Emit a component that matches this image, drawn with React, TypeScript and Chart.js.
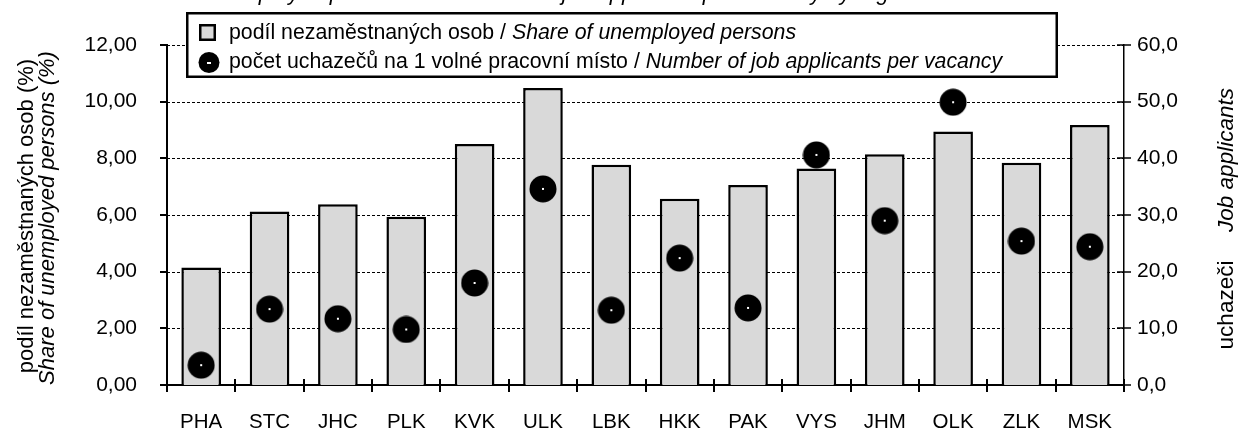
import React, { useEffect, useRef } from "react";
import { Chart, registerables } from "chart.js";

Chart.register(...registerables);

const regions = ["PHA", "STC", "JHC", "PLK", "KVK", "ULK", "LBK", "HKK", "PAK", "VYS", "JHM", "OLK", "ZLK", "MSK"];
const unemployedShare = [4.15, 6.12, 6.38, 5.94, 8.51, 10.48, 7.77, 6.57, 7.06, 7.64, 8.14, 8.95, 7.84, 9.18];
const applicantsPerVacancy = [3.5, 13.4, 11.7, 9.8, 18.0, 34.6, 13.2, 22.4, 13.6, 40.6, 29.0, 49.9, 25.4, 24.4];
const leftTicks = [0, 2, 4, 6, 8, 10, 12];
const rightTicks = [0, 10, 20, 30, 40, 50, 60];

const titleText = "Share of unemployed persons and number of job applicants per vacancy by region";
const legendShareCz = "podíl nezaměstnaných osob / ";
const legendShareEn = "Share of unemployed persons";
const legendApplCz = "počet uchazečů na 1 volné pracovní místo / ";
const legendApplEn = "Number of job applicants per vacancy";
const leftTitleCz = "podíl nezaměstnaných osob (%)";
const leftTitleEn = "Share of unemployed persons (%)";
const rightTitleCz = "uchazeči";
const rightTitleEn = "Job applicants";

const FONT = "'Liberation Sans', Arial, sans-serif";

function makeDot(): HTMLCanvasElement {
  const c = document.createElement("canvas");
  c.width = 28;
  c.height = 28;
  const g = c.getContext("2d")!;
  g.fillStyle = "#000";
  g.beginPath();
  g.arc(14, 14, 13.5, 0, Math.PI * 2);
  g.fill();
  g.fillStyle = "#fff";
  g.fillRect(13, 13, 2, 2);
  return c;
}

const customPlugin = {
  id: "customDraw",
  beforeDatasetsDraw(chart: any) {
    const { ctx, chartArea } = chart;
    const y = chart.scales.y;
    ctx.save();
    ctx.strokeStyle = "#000";
    ctx.lineWidth = 1;
    ctx.setLineDash([3, 2]);
    leftTicks.forEach((v) => {
      if (v === leftTicks[0]) return;
      const py = Math.round(y.getPixelForValue(v)) + 0.5;
      ctx.beginPath();
      ctx.moveTo(chartArea.left, py);
      ctx.lineTo(chartArea.right, py);
      ctx.stroke();
    });
    ctx.restore();
  },
  afterDraw(chart: any) {
    const { ctx, chartArea } = chart;
    const { left, right, bottom } = chartArea;
    const y = chart.scales.y;
    const y2 = chart.scales.y2;
    ctx.save();
    ctx.strokeStyle = "#000";
    ctx.setLineDash([]);
    // left ticks
    ctx.lineWidth = 2;
    leftTicks.forEach((v) => {
      const py = Math.round(y.getPixelForValue(v));
      ctx.beginPath();
      ctx.moveTo(left - 7, py);
      ctx.lineTo(left, py);
      ctx.stroke();
    });
    // x ticks at category boundaries
    const n = regions.length;
    for (let i = 0; i <= n; i++) {
      const px = Math.round(left + (i * (right - left)) / n);
      ctx.beginPath();
      ctx.moveTo(px, bottom - 6);
      ctx.lineTo(px, bottom + 7);
      ctx.stroke();
    }
    // right ticks
    ctx.lineWidth = 1.5;
    rightTicks.forEach((v) => {
      const py = Math.round(y2.getPixelForValue(v));
      ctx.beginPath();
      ctx.moveTo(right - 7, py);
      ctx.lineTo(right + 7, py);
      ctx.stroke();
    });

    // title (cut off at top)
    ctx.fillStyle = "#000";
    ctx.font = `italic 22px ${FONT}`;
    ctx.textAlign = "right";
    ctx.textBaseline = "alphabetic";
    ctx.fillText(titleText, 918, 0);

    // legend box
    ctx.fillStyle = "#fff";
    ctx.fillRect(186, 12, 872, 66);
    ctx.lineWidth = 2.5;
    ctx.strokeStyle = "#000";
    ctx.strokeRect(187.25, 13.25, 869.5, 63.5);
    // square marker
    ctx.fillStyle = "#d9d9d9";
    ctx.fillRect(199, 24, 17, 17);
    ctx.lineWidth = 2.5;
    ctx.strokeRect(200.25, 25.25, 14.5, 14.5);
    // circle marker
    ctx.fillStyle = "#000";
    ctx.beginPath();
    ctx.arc(209, 62.5, 10.5, 0, Math.PI * 2);
    ctx.fill();
    ctx.fillStyle = "#fff";
    ctx.fillRect(207, 62, 4, 2);
    // legend text
    ctx.fillStyle = "#000";
    ctx.textAlign = "left";
    ctx.textBaseline = "alphabetic";
    ctx.font = `21.3px ${FONT}`;
    ctx.fillText(legendShareCz, 229, 38.5);
    let w = ctx.measureText(legendShareCz).width;
    ctx.font = `italic 21.3px ${FONT}`;
    ctx.fillText(legendShareEn, 229 + w, 38.5);
    ctx.font = `21.3px ${FONT}`;
    ctx.fillText(legendApplCz, 229, 67.5);
    w = ctx.measureText(legendApplCz).width;
    ctx.font = `italic 21.3px ${FONT}`;
    ctx.fillText(legendApplEn, 229 + w, 67.5);

    // left axis titles
    ctx.textAlign = "center";
    ctx.textBaseline = "middle";
    ctx.save();
    ctx.translate(27, 216);
    ctx.rotate(-Math.PI / 2);
    ctx.font = `22px ${FONT}`;
    ctx.fillText(leftTitleCz, 0, 0);
    ctx.restore();
    ctx.save();
    ctx.translate(48, 218);
    ctx.rotate(-Math.PI / 2);
    ctx.font = `italic 22px ${FONT}`;
    ctx.fillText(leftTitleEn, 0, 0);
    ctx.restore();
    // right axis titles
    ctx.save();
    ctx.translate(1227, 305);
    ctx.rotate(-Math.PI / 2);
    ctx.font = `22.5px ${FONT}`;
    ctx.fillText(rightTitleCz, 0, 0);
    ctx.restore();
    ctx.save();
    ctx.translate(1227, 160);
    ctx.rotate(-Math.PI / 2);
    ctx.font = `italic 22.5px ${FONT}`;
    ctx.fillText(rightTitleEn, 0, 0);
    ctx.restore();

    ctx.restore();
  },
};

export default function App() {
  const ref = useRef<HTMLCanvasElement | null>(null);
  useEffect(() => {
    if (!ref.current) return;
    const dot = makeDot();
    const yFont = { family: FONT, size: 21 };
    const xFont = { family: FONT, size: 20.5 };
    const chart = new Chart(ref.current, {
      type: "bar",
      data: {
        labels: regions,
        datasets: [
          {
            type: "line",
            label: "počet uchazečů na 1 volné pracovní místo",
            data: applicantsPerVacancy,
            yAxisID: "y2",
            showLine: false,
            pointStyle: dot as any,
            pointRadius: 14,
            order: 0,
          } as any,
          {
            type: "bar",
            label: "podíl nezaměstnaných osob",
            data: unemployedShare,
            yAxisID: "y",
            backgroundColor: "#d9d9d9",
            borderColor: "#000",
            borderWidth: 2.5,
            categoryPercentage: 1,
            barPercentage: 0.58,
            order: 1,
          },
        ],
      },
      options: {
        responsive: false,
        animation: false,
        events: [],
        layout: { padding: { top: 45, left: 0, right: 0, bottom: 0 } },
        plugins: {
          legend: { display: false },
          title: { display: false },
          tooltip: { enabled: false },
        },
        scales: {
          x: {
            offset: true,
            grid: { display: false, drawTicks: false },
            border: { display: true, color: "#000", width: 2 },
            ticks: { color: "#000", font: xFont, padding: 25, maxRotation: 0, autoSkip: false },
            afterFit: (s: any) => {
              s.height = 48;
            },
          },
          y: {
            position: "left",
            min: 0,
            max: 12,
            grid: { display: false, drawTicks: false },
            border: { display: true, color: "#000", width: 2 },
            ticks: {
              stepSize: 2,
              color: "#000",
              font: yFont,
              padding: 30,
              callback: (v: any) => Number(v).toFixed(2).replace(".", ","),
            },
            afterFit: (s: any) => {
              s.width = 167;
            },
          },
          y2: {
            position: "right",
            min: 0,
            max: 60,
            grid: { display: false, drawTicks: false },
            border: { display: true, color: "#000", width: 1.5 },
            ticks: {
              stepSize: 10,
              color: "#000",
              font: yFont,
              padding: 13,
              callback: (v: any) => Number(v).toFixed(1).replace(".", ","),
            },
            afterFit: (s: any) => {
              s.width = 115;
            },
          },
        },
      },
      plugins: [customPlugin],
    });
    return () => chart.destroy();
  }, []);
  return (
    <div style={{ position: "absolute", left: 0, top: 0, width: 1239, height: 433 }}>
      <canvas ref={ref} width={1239} height={433} style={{ display: "block" }} />
    </div>
  );
}
